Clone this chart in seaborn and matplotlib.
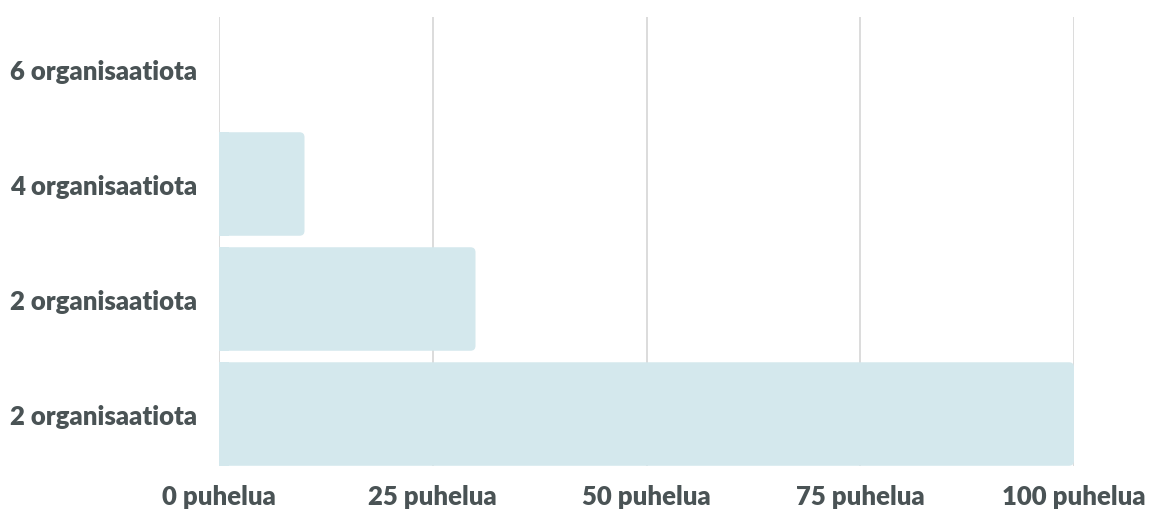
import matplotlib.pyplot as plt
import seaborn as sns
import pandas as pd
from matplotlib.patches import FancyBboxPatch, Rectangle

# data (top to bottom)
labels = ["6 organisaatiota", "4 organisaatiota", "2 organisaatiota", "2 organisaatiota"]
calls = [0, 10, 30, 100]
ticks = [0, 25, 50, 75, 100]
tick_labels = ["0 puhelua", "25 puhelua", "50 puhelua", "75 puhelua", "100 puhelua"]

sns.set_theme(style="white")
plt.rcParams["font.family"] = ["Lato", "DejaVu Sans"]

df = pd.DataFrame({"row": range(len(labels)), "calls": calls})

fig = plt.figure(figsize=(11.49, 5.1), dpi=100)
ax = fig.add_axes([219 / 1149, 43 / 510, 855 / 1149, 449 / 510])

bar_color = "#d4e8ed"
sns.barplot(data=df, x="calls", y="row", orient="h", color=bar_color,
            width=0.9, saturation=1, ax=ax, zorder=2)

ax.set_xlim(0, 100)
ax.set_ylim(3.452, -0.452)

# swap plain bars for ones with rounded right corners
xpp = 100 / 855
ypp = 3.904 / 449
for p in list(ax.patches):
    x0, y0, w, h = p.get_x(), p.get_y(), p.get_width(), p.get_height()
    p.remove()
    if w <= 0:
        continue
    r = 5 * xpp
    ax.add_patch(FancyBboxPatch((x0, y0), w, h,
                                boxstyle=f"round,pad=0,rounding_size={r}",
                                mutation_aspect=ypp / xpp,
                                fc=bar_color, ec="none", zorder=2))
    ax.add_patch(Rectangle((x0, y0), min(w, 2 * r), h, fc=bar_color, ec="none", zorder=2))

ax.set_xticks(ticks)
ax.set_xticklabels(tick_labels)
ax.set_yticks(range(len(labels)))
ax.set_yticklabels(labels)
ax.grid(axis="x", color="#d6d6d6", linewidth=1.2, zorder=0)
ax.set_axisbelow(True)
for s in ax.spines.values():
    s.set_visible(False)
ax.set_xlabel("")
ax.set_ylabel("")

text_color = "#4a5355"
ax.tick_params(axis="both", length=0, labelsize=18.5, labelcolor=text_color)
ax.tick_params(axis="x", pad=13)
ax.tick_params(axis="y", pad=16)
for t in ax.get_xticklabels() + ax.get_yticklabels():
    t.set_fontweight("heavy")

fig.savefig("out.png", dpi=100)
